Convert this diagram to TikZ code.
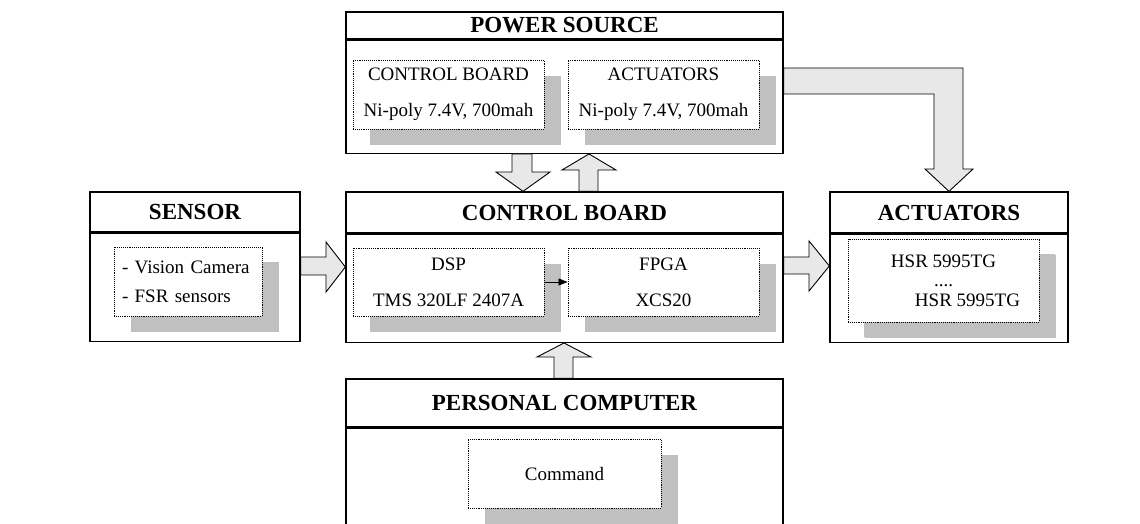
\documentclass[tikz,border=0pt]{standalone}
\usepackage{fontspec}
\setmainfont{Liberation Serif}
\usetikzlibrary{positioning,shadows,arrows.meta}

\begin{document}
\begin{tikzpicture}[x=1pt,y=-1pt,
  head/.style={draw,line width=1.3pt,inner sep=0pt,font=\fontsize{23}{27}\selectfont\bfseries},
  body/.style={draw,line width=1.3pt,inner sep=0pt},
  inbox/.style={draw,densely dotted,line width=0.9pt,fill=white,inner sep=0pt,align=center,
    minimum width=191,minimum height=69,font=\fontsize{19}{36}\selectfont,
    drop shadow={shadow xshift=17pt,shadow yshift=-16pt,fill=shadowgray,opacity=1}},
  fat/.style={draw,line width=0.9pt,fill=arrowgray,line join=miter}]

\definecolor{shadowgray}{RGB}{192,192,192}
\definecolor{arrowgray}{RGB}{232,232,232}

\useasboundingbox (0,0) rectangle (1140,524);
\clip (0,0) rectangle (1140,524);

% outer blocks
\node[head,minimum width=437,minimum height=27] (powerhead) at (564.5,25.5) {POWER SOURCE};
\node[body,minimum width=437,minimum height=113,below=0pt of powerhead] (power) {};
\node[head,minimum width=210,minimum height=40] (sensorhead) at (195,212) {SENSOR};
\node[body,minimum width=210,minimum height=108,below=0pt of sensorhead] (sensor) {};
\node[head,minimum width=437,minimum height=41] (ctrlhead) at (564.5,212.5) {CONTROL BOARD};
\node[body,minimum width=437,minimum height=108,below=0pt of ctrlhead] (ctrl) {};
\node[head,minimum width=238,minimum height=41] (acthead) at (949,212.5) {ACTUATORS};
\node[body,minimum width=238,minimum height=108,below=0pt of acthead] (act) {};
\node[head,minimum width=437,minimum height=48] (pchead) at (564.5,403) {PERSONAL COMPUTER};
\node[body,minimum width=437,minimum height=140,below=0pt of pchead] (pc) {};

% inner boxes
\node[inbox] (pwrctrl) at (448.5,94.5) {CONTROL BOARD\\Ni-poly 7.4V, 700mah};
\node[inbox] (pwract) at (663.5,94.5) {ACTUATORS\\Ni-poly 7.4V, 700mah};
\node[inbox,minimum width=0pt,text width=132pt,inner xsep=8pt,align=left,
  font=\fontsize{19}{29}\selectfont,
  drop shadow={shadow xshift=17pt,shadow yshift=-15pt,fill=shadowgray,opacity=1}]
  (sens) at (188,281.5) {- Vision Camera\\- FSR sensors};
\node[inbox,minimum height=68] (dsp) at (448.5,282) {DSP\\TMS 320LF 2407A};
\node[inbox,minimum height=68] (fpga) at (663.5,282) {FPGA\\XCS20};
\node[inbox,minimum height=83,font=\fontsize{19}{19.5}\selectfont,
  drop shadow={shadow xshift=16pt,shadow yshift=-15pt,fill=shadowgray,opacity=1}]
  (hsr) at (943.5,280.5) {HSR 5995TG\\....\\\hspace*{48pt}HSR 5995TG};
\node[inbox,minimum width=193] (cmd) at (564.5,473.5) {Command};

\draw[line width=0.8pt,-{Triangle[length=9pt,width=7pt]}] (dsp) -- (fpga);

% block arrows
\draw[fat] (512,0 |- power.south) -- (532,0 |- power.south) -- (532,172) -- (550,172)
  -- (ctrlhead.north -| 523,0) -- (496,172) -- (512,172) -- cycle;
\draw[fat] (ctrlhead.north -| 579,0) -- (579,170) -- (562,170) -- (power.south -| 589,0)
  -- (616,170) -- (598,170) -- (ctrlhead.north -| 598,0) -- cycle;
\draw[fat] (sensor.east |- 0,257) -- (326,257) -- (326,242) -- (ctrl.west |- 0,267)
  -- (326,292) -- (326,275) -- (sensor.east |- 0,275) -- cycle;
\draw[fat] (ctrl.east |- 0,257) -- (809,257) -- (809,241) -- (act.west |- 0,266)
  -- (809,291) -- (809,274) -- (ctrl.east |- 0,274) -- cycle;
\draw[fat] (pchead.north -| 554,0) -- (554,357) -- (537,357) -- (ctrl.south -| 564,0)
  -- (591,357) -- (573,357) -- (pchead.north -| 573,0) -- cycle;
\draw[fat] (power.east |- 0,68) -- (963,68) -- (963,169) -- (973,169) -- (acthead.north)
  -- (925,169) -- (934,169) -- (934,94) -- (power.east |- 0,94) -- cycle;
\end{tikzpicture}
\end{document}
